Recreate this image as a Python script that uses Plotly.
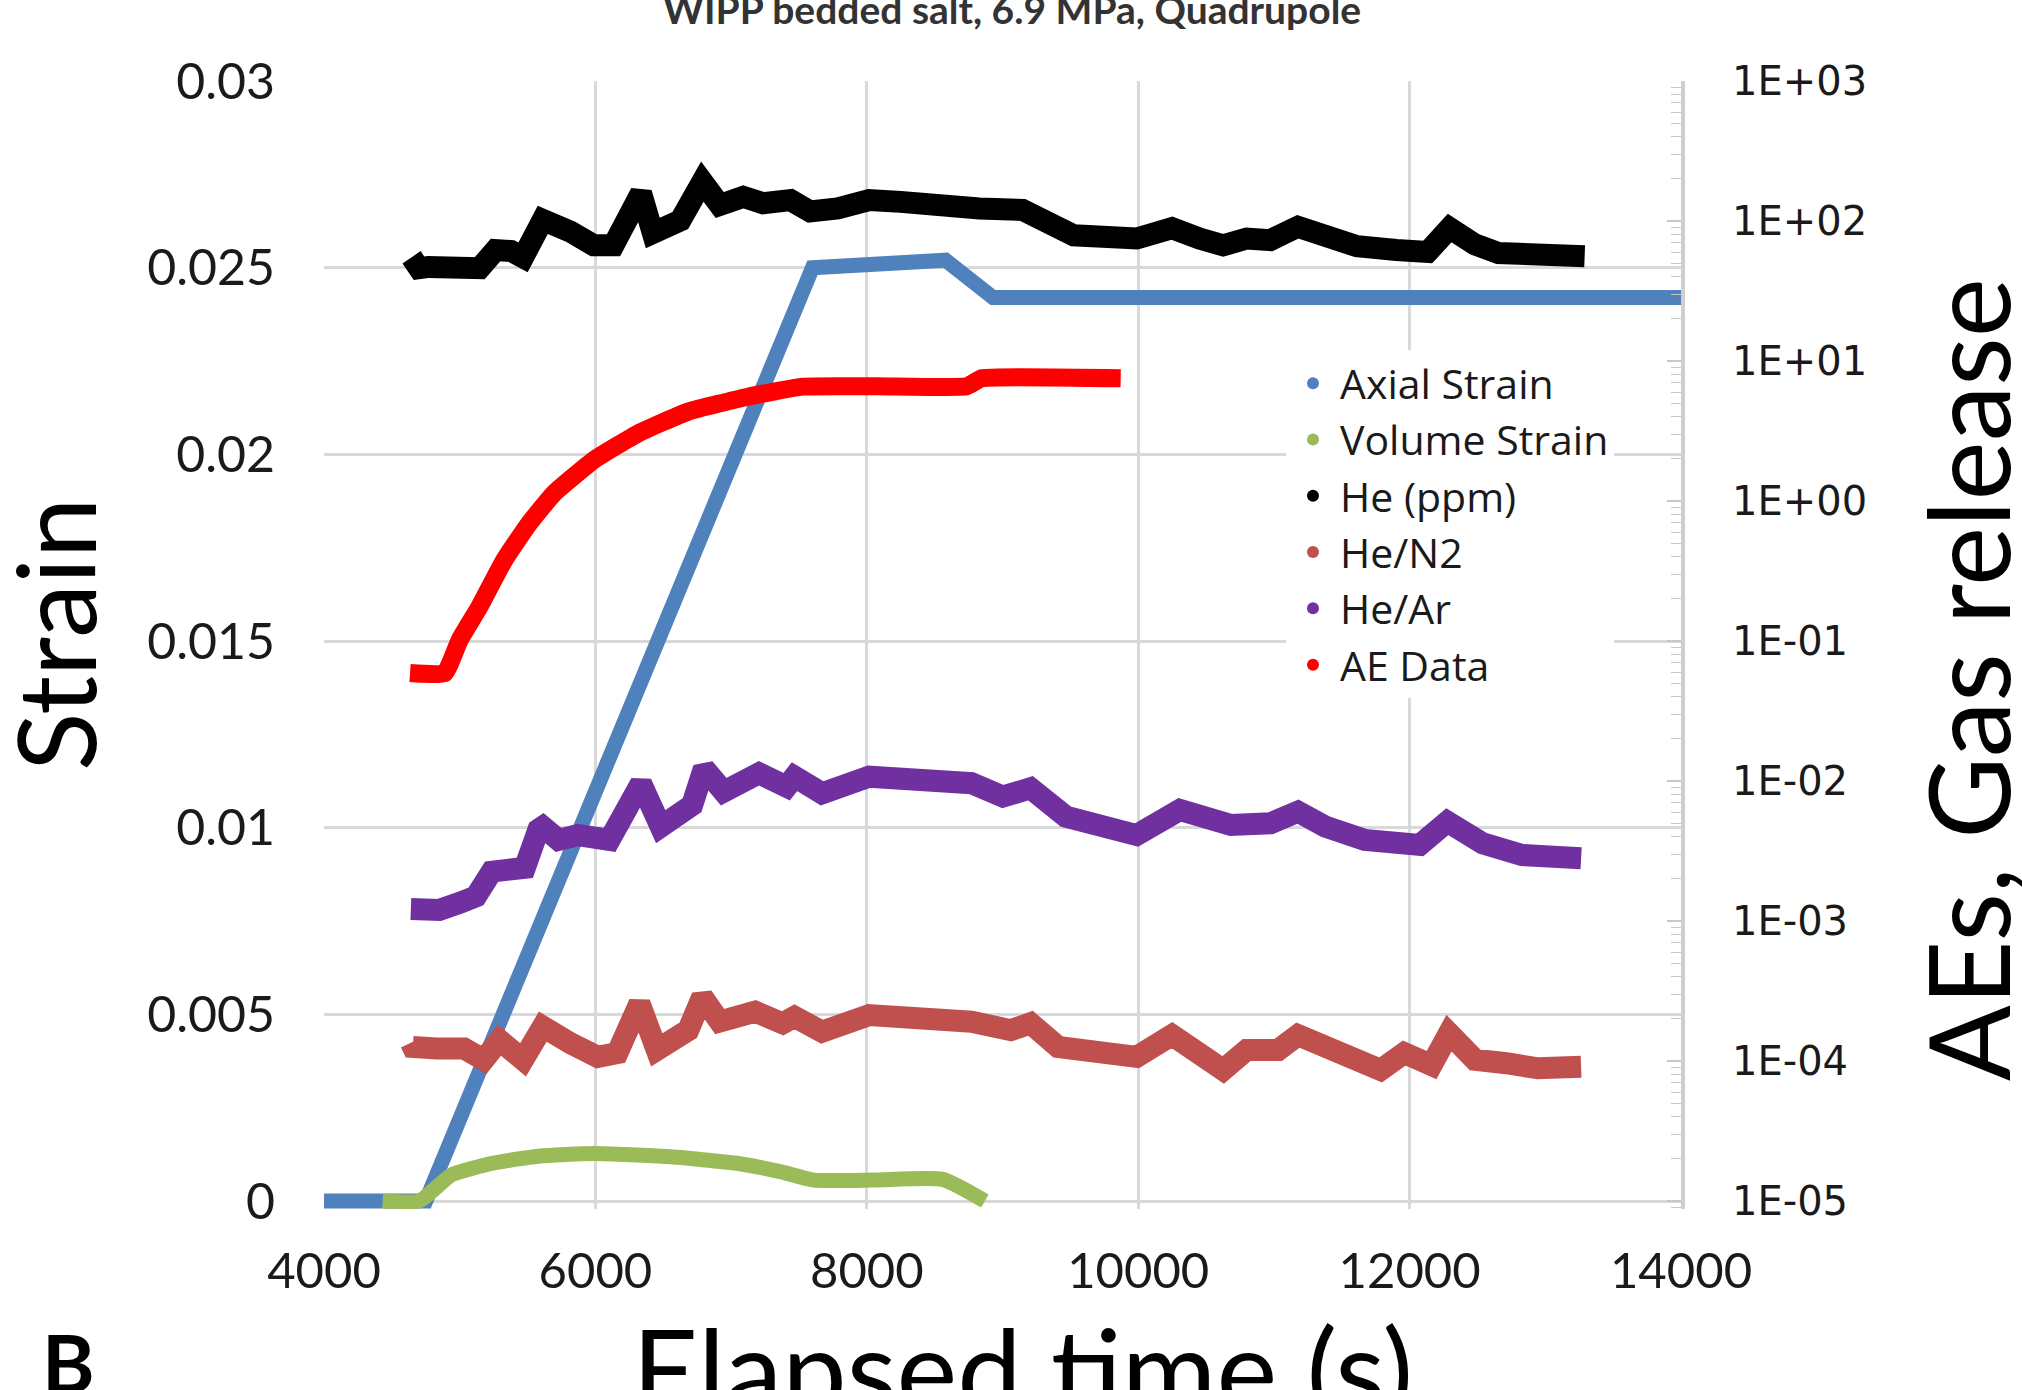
import plotly.graph_objects as go

# ---------------- data ----------------
x_ticks = [4000, 6000, 8000, 10000, 12000, 14000]
x_ticktext = ["4000", "6000", "8000", "10000", "12000", "14000"]
y_ticks = [0, 0.005, 0.01, 0.015, 0.02, 0.025, 0.03]
y_ticktext = ["0", "0.005", "0.01", "0.015", "0.02", "0.025", "0.03"]
y2_ticks = [1e-5, 1e-4, 1e-3, 1e-2, 1e-1, 1e0, 1e1, 1e2, 1e3]
y2_ticktext = ["1E-05", "1E-04", "1E-03", "1E-02", "1E-01", "1E+00", "1E+01", "1E+02", "1E+03"]

t_axial = [4000, 4750, 7600, 8580, 8930, 14000]
axial_strain = [0, 0, 0.0250, 0.0252, 0.0242, 0.0242]

t_vol = [4432, 4700, 4940, 5240, 5580, 5990, 6530, 7040, 7370, 7610, 8050, 8560, 8870]
volume_strain = [0, 0, 0.0007, 0.00101, 0.0012, 0.00127, 0.00119, 0.00101, 0.00078, 0.00056, 0.00056, 0.00058, 0]

t_he = [4645, 4700, 4771, 5003, 5148, 5264, 5380, 5467, 5612, 5815, 5988, 6133, 6336, 6423, 6626,
        6788, 6916, 7090, 7235, 7438, 7583, 7786, 8017, 8249, 8481, 8829, 9148, 9351, 9525, 9989,
        10249, 10452, 10626, 10800, 10974, 11177, 11380, 11612, 11902, 12133, 12295, 12481, 12655,
        12945, 13290]
he_ppm = [55, 46, 47, 47, 46, 62, 61, 55, 102, 84, 67, 67, 158, 82, 101,
          191, 130, 149, 134, 141, 117, 123, 141, 137, 127, 123, 120, 91, 79, 75,
          89, 75, 67, 75, 73, 91, 77, 66, 62, 60, 89, 68, 59,
          56, 56]

t_hen2 = [4640, 4655, 4829, 5032, 5177, 5293, 5467, 5612, 5815, 6017, 6162, 6325, 6452, 6684, 6788,
          6916, 7177, 7380, 7467, 7670, 8017, 8423, 8771, 9061, 9206, 9409, 9756, 9988, 10249,
          10452, 10626, 10800, 11032, 11177, 11380, 11612, 11786, 11960, 12162, 12290, 12481,
          12713, 12945, 13264]
he_n2 = [0.000135, 0.000126, 0.000123, 0.000123, 0.000102, 0.000141, 0.000102, 0.000176, 0.000134,
         0.000107, 0.000114, 0.000258, 0.000120, 0.000166, 0.000288, 0.000191, 0.000225, 0.000186,
         0.000207, 0.000162, 0.000213, 0.000202, 0.000191, 0.000166, 0.000186, 0.000126, 0.000120,
         0.000107, 0.000153, 0.000117, 0.0000863, 0.000120, 0.000120, 0.000153, 0.000126, 0.000107,
         0.0000863, 0.000114, 0.0000936, 0.000158, 0.000102, 0.0000964, 0.0000887, 0.0000910]

t_hear = [4640, 4850, 5003, 5120, 5235, 5409, 5480, 5580, 5612, 5728, 5872, 6104, 6336, 6481, 6713,
          6800, 6945, 7206, 7409, 7467, 7670, 8017, 8365, 8771, 9003, 9206, 9467, 9756, 9988,
          10307, 10510, 10684, 10974, 11177, 11380, 11670, 12075, 12278, 12539, 12829, 13061, 13264]
he_ar = [0.00122, 0.00120, 0.00135, 0.00150, 0.00225, 0.00244, 0.00240, 0.00450, 0.00472, 0.00379,
         0.00411, 0.00379, 0.00964, 0.00472, 0.00674, 0.01233, 0.00839, 0.01135, 0.00910, 0.01074,
         0.00817, 0.01074, 0.01045, 0.00964, 0.00773, 0.00887, 0.00556, 0.00485, 0.00411, 0.00621,
         0.00556, 0.00485, 0.00499, 0.00604, 0.00472, 0.00379, 0.00349, 0.00512, 0.00359, 0.00296,
         0.00288, 0.00281]

t_ae = [4634, 4890, 5000, 5146, 5329, 5512, 5695, 5988, 6318, 6685, 7125, 7528, 8077, 8737, 8847, 9871]
ae_data = [0.059, 0.059, 0.102, 0.176, 0.379, 0.692, 1.135, 1.96, 3.05, 4.35, 5.56, 6.56, 6.6, 6.6, 7.52, 7.52]

series_names = ["Axial Strain", "Volume Strain", "He (ppm)", "He/N2", "He/Ar", "AE Data"]
series_colors = ["#4F81BD", "#9BBB59", "#000000", "#C0504D", "#7030A0", "#FF0000"]

# ---------------- figure ----------------
W, H = 2022, 1390
L, R, T, B = 324, 341, 81, 181
PW, PH = W - L - R, H - T - B
pad_px = 8
y_lo = -pad_px / 186.67 * 0.005
y2_lo = -5 - pad_px / 140.0

def px(xp):
    return (xp - L) / PW

def py(yp):
    return (H - B - yp) / PH

fig = go.Figure()

# plotted series (drawing order: bottom to top)
fig.add_trace(go.Scatter(x=t_hen2, y=he_n2, yaxis="y2", mode="lines",
                         line=dict(color=series_colors[3], width=22), showlegend=False))
fig.add_trace(go.Scatter(x=t_hear, y=he_ar, yaxis="y2", mode="lines",
                         line=dict(color=series_colors[4], width=22), showlegend=False))
fig.add_trace(go.Scatter(x=t_axial, y=axial_strain, yaxis="y", mode="lines",
                         line=dict(color=series_colors[0], width=15), showlegend=False))
fig.add_trace(go.Scatter(x=t_vol, y=volume_strain, yaxis="y", mode="lines",
                         line=dict(color=series_colors[1], width=15, shape="spline", smoothing=0.5),
                         showlegend=False))
fig.add_trace(go.Scatter(x=t_he, y=he_ppm, yaxis="y2", mode="lines",
                         line=dict(color=series_colors[2], width=22), showlegend=False))
fig.add_trace(go.Scatter(x=t_ae, y=ae_data, yaxis="y2", mode="lines",
                         line=dict(color=series_colors[5], width=18, shape="spline", smoothing=0.4),
                         showlegend=False))

# legend entries (dots, as in the reference)
for name, col in zip(series_names, series_colors):
    fig.add_trace(go.Scatter(x=[None], y=[None], mode="markers", name=name,
                             marker=dict(color=col, size=13)))

grid = "#d9d9d9"
fig.update_layout(
    width=W, height=H,
    margin=dict(l=L, r=R, t=T, b=B, pad=0),
    paper_bgcolor="white", plot_bgcolor="white",
    font=dict(family="Lato", color="#1a1a1a"),
    xaxis=dict(range=[4000, 14000], tickmode="array", tickvals=x_ticks, ticktext=x_ticktext,
               showgrid=True, gridcolor=grid, gridwidth=3, zeroline=False, showline=False,
               ticks="", tickfont=dict(family="Lato", size=49, color="#1a1a1a"),
               ticklabelstandoff=29),
    yaxis=dict(range=[y_lo, 0.03], tickmode="array", tickvals=y_ticks, ticktext=y_ticktext,
               showgrid=True, gridcolor=grid, gridwidth=3, zeroline=False, showline=False,
               ticks="", tickfont=dict(family="Lato", size=50, color="#1a1a1a"),
               ticklabelstandoff=48),
    yaxis2=dict(type="log", range=[y2_lo, 3], overlaying="y", side="right",
                tickmode="array", tickvals=y2_ticks, ticktext=y2_ticktext,
                showgrid=False, zeroline=False, showline=True, linecolor="#cfcfcf", linewidth=4,
                ticks="inside", ticklen=14, tickwidth=2, tickcolor="#c8c8c8",
                minor=dict(ticks="inside", ticklen=10, tickwidth=1, tickcolor="#c8c8c8",
                           dtick="D1", showgrid=False),
                tickfont=dict(family="DejaVu Sans", size=40, color="#1a1a1a"),
                ticklabelstandoff=39),
    legend=dict(x=px(1286), y=py(350), xanchor="left", yanchor="top",
                bgcolor="white", borderwidth=0,
                font=dict(family="Open Sans", size=41, color="#1a1a1a"),
                itemsizing="constant", itemwidth=44, tracegroupgap=0),
    showlegend=True,
)

annotations = [
    dict(text="<b>WIPP bedded salt, 6.9 MPa, Quadrupole</b>", x=px(1012), y=py(9),
         xanchor="center", yanchor="middle", font=dict(family="Lato", size=39, color="#333333")),
    dict(text="Strain", x=px(54), y=py(635), textangle=-90,
         xanchor="center", yanchor="middle", font=dict(family="Lato", size=108, color="#000000")),
    dict(text="AEs, Gas release", x=px(1966), y=py(680), textangle=-90,
         xanchor="center", yanchor="middle", font=dict(family="Lato", size=112, color="#000000")),
    dict(text="Elapsed time (s)", x=px(1022), y=py(1296),
         xanchor="center", yanchor="top", font=dict(family="Lato", size=115, color="#000000")),
    dict(text="<b>B</b>", x=px(40), y=py(1312),
         xanchor="left", yanchor="top", font=dict(family="Lato", size=80, color="#000000")),
]
for a in annotations:
    a.update(xref="paper", yref="paper", showarrow=False)
fig.update_layout(annotations=annotations)

fig.write_html("out.html")
